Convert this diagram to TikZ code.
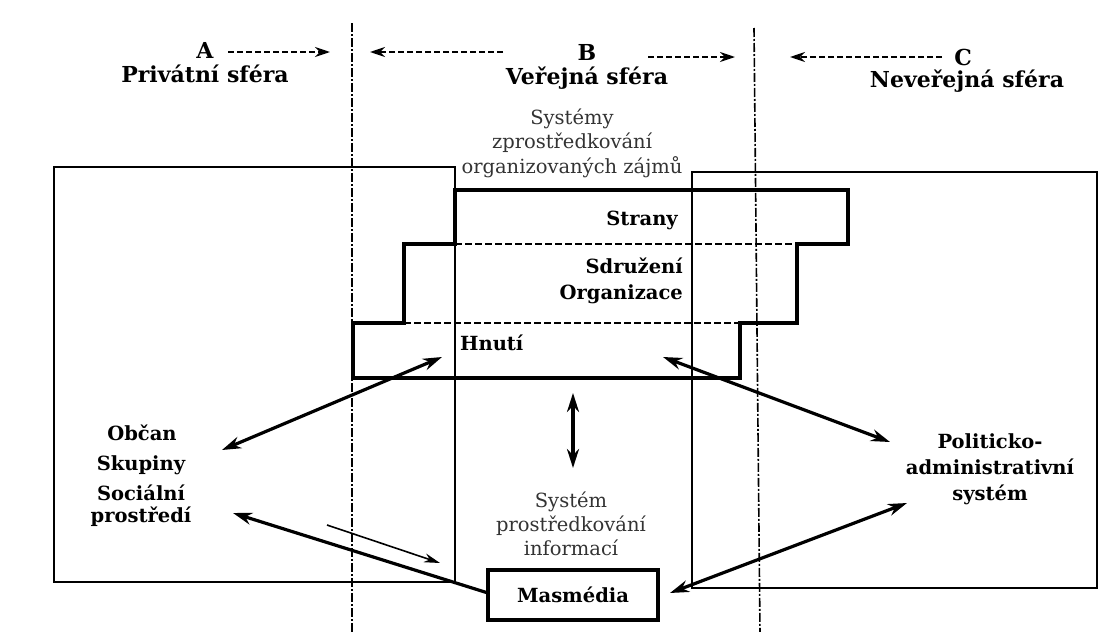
\documentclass[tikz,border=0pt]{standalone}
\usepackage{fontspec}
\setmainfont{DejaVu Serif}
\usetikzlibrary{arrows.meta}
\begin{document}
\begin{tikzpicture}[x=1pt,y=-1pt,
  frame/.style={line width=2.3pt},
  stair/.style={line width=4.4pt, line join=miter},
  level/.style={line width=1.7pt, dash pattern=on 7pt off 3pt},
  divider/.style={line width=1.6pt, dash pattern=on 9pt off 2pt on 2pt off 2pt},
  hint/.style={line width=1.8pt, dash pattern=on 6pt off 3pt, -{Stealth[length=15pt,width=10pt]}},
  link/.style={line width=3.2pt, {Stealth[length=19pt,width=12pt]}-{Stealth[length=19pt,width=12pt]}},
  oneway/.style={line width=3.2pt, -{Stealth[length=19pt,width=12pt]}},
  slim/.style={line width=1.6pt, -{Stealth[length=16pt,width=9pt]}},
  head/.style={font=\fontsize{22}{26}\selectfont\bfseries, inner sep=0pt},
  lab/.style={font=\fontsize{19.5}{26}\selectfont\bfseries, inner sep=0pt, align=center},
  note/.style={font=\fontsize{19.5}{24.5}\selectfont, text=black!80, inner sep=0pt, align=center},
]
\useasboundingbox (0,0) rectangle (1112,632);

% sphere dividers
\draw[divider] (352,23) -- (352,632);
\draw[divider] (754,28) -- (760,632);

% outer frames of the private and non-public spheres
\draw[frame] (54,167) rectangle (455,582);
\draw[frame] (692,172) rectangle (1097,588);

% stepped block of organised interests
\draw[stair] (455,190) -- (848,190) -- (848,244) -- (797,244) -- (797,323)
  -- (740,323) -- (740,378) -- (353,378) -- (353,323) -- (404,323)
  -- (404,244) -- (455,244) -- cycle;
\draw[level] (455,244) -- (797,244);
\draw[level] (404,323) -- (740,323);

% headings
\node[head] (hA) at (205,50) {A};
\node[head] (tA) at (205,74) {Privátní sféra};
\node[head] (hB) at (587,52) {B};
\node[head] (tB) at (587,78) {Veřejná sféra};
\node[head] (hC) at (963,57) {C};
\node[head] (tC) at (967,81) {Neveřejná sféra};

\coordinate (aA1) at (228,52);  \coordinate (aA2) at (330,52);
\coordinate (aB1) at (503,52);  \coordinate (aB2) at (370,52);
\coordinate (aB3) at (648,57);  \coordinate (aB4) at (735,57);
\coordinate (aC1) at (942,57);  \coordinate (aC2) at (790,57);
\draw[hint] (aA1) -- (aA2);
\draw[hint] (aB1) -- (aB2);
\draw[hint] (aB3) -- (aB4);
\draw[hint] (aC1) -- (aC2);

% texts
\node[note] (zajmy) at (572,143) {Systémy\\zprostředkování\\organizovaných zájmů};
\node[lab, anchor=east] (strany) at (678,220) {Strany};
\node[lab, anchor=east, align=right] (sdruz) at (683,281) {Sdružení\\Organizace};
\node[lab, anchor=west] (hnuti) at (460,343) {Hnutí};

\node[lab] (obcan) at (142,433) {Občan};
\node[lab] (skup) at (141,465) {Skupiny};
\node[lab, font=\fontsize{19.5}{22}\selectfont\bfseries] (social) at (141,506) {Sociální\\prostředí};

\node[lab] (polit) at (990,469) {Politicko-\\administrativní\\systém};

\node[note, font=\fontsize{19.5}{24}\selectfont] (info) at (571,524) {Systém\\prostředkování\\informací};
\node[draw, line width=3.4pt, minimum width=170pt, minimum height=50pt,
  font=\fontsize{19.5}{24}\selectfont\bfseries, inner sep=0pt] (media) at (573,595) {Masmédia};

% connectors
\coordinate (pL) at (442,357);  \coordinate (pC) at (222,450);
\coordinate (pR) at (663,357);  \coordinate (pP) at (890,442);
\coordinate (vT) at (573,393);  \coordinate (vB) at (573,468);
\coordinate (mL) at (488,593);  \coordinate (pS) at (233,513);
\coordinate (sA) at (327,525);  \coordinate (sB) at (440,563);
\coordinate (mR) at (670,593);  \coordinate (pQ) at (907,503);

\draw[link] (pL) -- (pC);
\draw[link] (pR) -- (pP);
\draw[link] (vT) -- (vB);
\draw[oneway] (mL) -- (pS);
\draw[slim] (sA) -- (sB);
\draw[link] (mR) -- (pQ);
\end{tikzpicture}
\end{document}
